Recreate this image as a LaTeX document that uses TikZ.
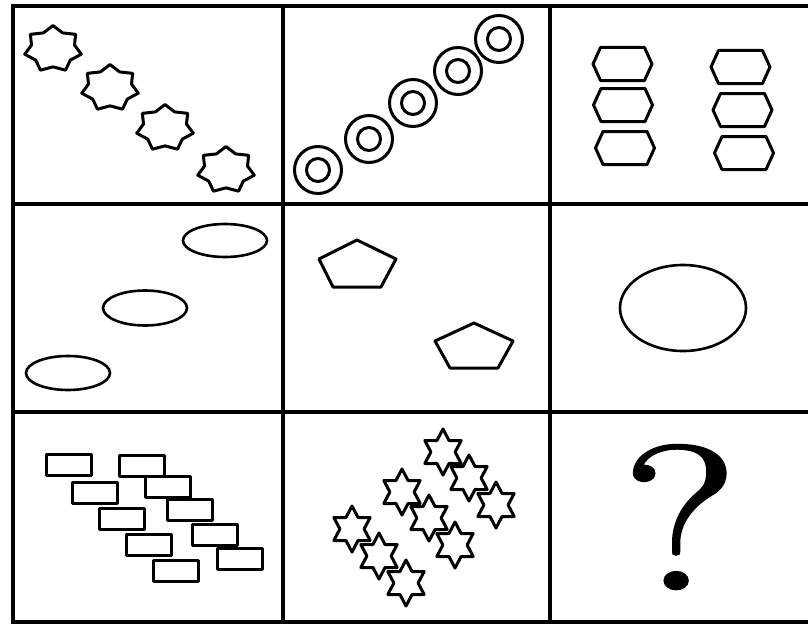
\documentclass[tikz,border=0pt]{standalone}
\usepackage{fontspec}
\newfontfamily\qfont[FakeBold=1.3]{Latin Modern Roman}
\tikzset{
  gridline/.style={line width=4pt, line cap=rect},
  shp/.style={line width=3pt, line join=round},
  thinshp/.style={line width=2.6pt},
}
\newcommand{\sevenstar}[2]{%
  \draw[shp] plot[samples at={0,...,13}, variable=\k]
    ({#1+29*(1-0.24*mod(\k,2))*cos(90+\k*360/14)},
     {#2-23.5*(1-0.24*mod(\k,2))*sin(90+\k*360/14)}) -- cycle;}
\newcommand{\sixstar}[2]{%
  \draw[shp] plot[samples at={0,...,11}, variable=\k]
    ({#1+21*(1-0.423*mod(\k,2))*cos(90+\k*30)},
     {#2-23*(1-0.423*mod(\k,2))*sin(90+\k*30)}) -- cycle;}
\newcommand{\hexa}[2]{%
  \draw[shp] (#1-29.5,#2) -- (#1-22,#2-16.5) -- (#1+22,#2-16.5) -- (#1+29.5,#2)
    -- (#1+22,#2+16.5) -- (#1-22,#2+16.5) -- cycle;}
\newcommand{\ring}[2]{%
  \draw[shp] (#1,#2) circle[radius=23.5];
  \draw[shp] (#1,#2) circle[radius=11.5];}
\newcommand{\brick}[2]{%
  \draw[shp] (#1-22.5,#2-10.5) rectangle (#1+22.5,#2+10.5);}
\begin{document}
\begin{tikzpicture}[x=1pt,y=-1pt]
\useasboundingbox (0,0) rectangle (808,626);
% grid
\draw[gridline] (13,6) -- (808,6);
\draw[gridline] (13,204) -- (808,204);
\draw[gridline] (13,412) -- (808,412);
\draw[gridline] (13,621.5) -- (808,621.5);
\draw[gridline] (13,6) -- (13,621.5);
\draw[gridline] (283,6) -- (283,621.5);
\draw[gridline] (550,6) -- (550,621.5);
% cell 1: seven-pointed stars
\sevenstar{53}{49}
\sevenstar{110}{88}
\sevenstar{165}{128}
\sevenstar{226}{170}
% cell 2: rings
\ring{318}{170}
\ring{369}{139}
\ring{413}{103}
\ring{458}{71}
\ring{499}{39}
% cell 3: hexagons
\hexa{622.5}{64}
\hexa{623}{105}
\hexa{625}{148}
\hexa{740.5}{67}
\hexa{742.5}{110}
\hexa{744}{153}
% cell 4: ellipses
\draw[thinshp] (225,240.5) ellipse[x radius=42, y radius=16.5];
\draw[thinshp] (145,308) ellipse[x radius=42, y radius=17.5];
\draw[thinshp] (68,373) ellipse[x radius=42, y radius=17];
% cell 5: pentagons
\draw[shp] (357,240) -- (396,259) -- (381,287) -- (333,287) -- (319,259) -- cycle;
\draw[shp] (474,323) -- (513,341) -- (498,368) -- (450,368) -- (435,341) -- cycle;
% cell 6: ellipse
\draw[thinshp] (683,308) ellipse[x radius=63, y radius=43];
% cell 7: bricks
\brick{68.5}{465}
\brick{94.5}{492.5}
\brick{121.5}{518.5}
\brick{148.5}{545}
\brick{175.5}{571}
\brick{142}{466}
\brick{168}{486.5}
\brick{190}{510}
\brick{215}{534.5}
\brick{239.5}{558.5}
% cell 8: six-pointed stars
\sixstar{352}{529}
\sixstar{379}{556}
\sixstar{406}{583}
\sixstar{402}{492}
\sixstar{429}{518}
\sixstar{455}{545}
\sixstar{443}{452}
\sixstar{469}{478}
\sixstar{496}{505}
% cell 9: question mark
\node[anchor=base, inner sep=0pt] (q) at (680,589)
  {\qfont\fontsize{205}{205}\selectfont\scalebox{1.3}[1]{?}};
\end{tikzpicture}
\end{document}
